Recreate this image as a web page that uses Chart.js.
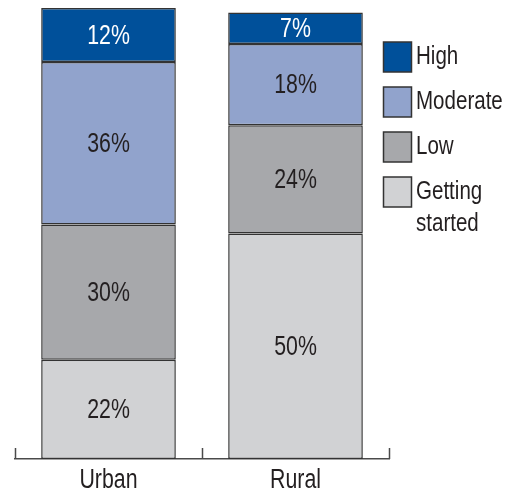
<!DOCTYPE html>
<html>
<head>
<meta charset="utf-8">
<script src="https://cdn.jsdelivr.net/npm/chart.js@4"></script>
<style>
  body { margin: 0; background: #fff; }
  canvas { display: block; }
</style>
</head>
<body>
<canvas id="chart" width="517" height="495"></canvas>
<script>
const categories = ["Urban", "Rural"];
const gettingStarted = [22, 50];
const low = [30, 24];
const moderate = [36, 18];
const high = [12, 7];

const legendLabels = [["High"], ["Moderate"], ["Low"], ["Getting", "started"]];

/* ===== Narrow text helper (Arial-like font squeezed horizontally) ===== */

function narrowText(ctx, text, x, y, size, color, align) {
  ctx.save();
  ctx.fillStyle = color;
  ctx.textAlign = align;
  ctx.textBaseline = "middle";
  ctx.font = size + "px 'Liberation Sans', Arial, sans-serif";
  ctx.translate(x, y);
  ctx.scale(0.79, 1);
  ctx.fillText(text, 0, 0);
  ctx.restore();
}

/* ===== Plugins ===== */

const extras = {
  id: "extras",
  afterDatasetsDraw(chart) {
    const ctx = chart.ctx;
    // segment values
    chart.data.datasets.forEach((ds, di) => {
      const meta = chart.getDatasetMeta(di);
      meta.data.forEach((bar, i) => {
        const mid = (bar.y + bar.base) / 2 + 1;
        narrowText(ctx, ds.data[i] + "%", bar.x, mid, 27, ds.labelColor, "center");
      });
    });

    // axis ticks pointing up, at category boundaries
    const x = chart.scales.x;
    const bottom = chart.chartArea.bottom;
    const step = (x.right - x.left) / categories.length;
    ctx.save();
    ctx.strokeStyle = "#4a4a4a";
    ctx.lineWidth = 1.5;
    for (let k = 0; k <= categories.length; k++) {
      const px = Math.round(x.left + step * k) + 0.5;
      ctx.beginPath();
      ctx.moveTo(px, bottom);
      ctx.lineTo(px, bottom - 11);
      ctx.stroke();
    }
    ctx.restore();

    // category labels
    categories.forEach((c, i) => {
      narrowText(ctx, c, x.getPixelForValue(i), bottom + 22, 27, "#231f20", "center");
    });

    // legend, top-down order High..Getting started
    const order = [3, 2, 1, 0];
    let y = 42;
    order.forEach((di, n) => {
      const ds = chart.data.datasets[di];
      ctx.save();
      ctx.fillStyle = ds.backgroundColor;
      ctx.strokeStyle = "#333";
      ctx.lineWidth = 1.5;
      ctx.fillRect(383.5, y, 28, 30);
      ctx.strokeRect(383.5, y, 28, 30);
      ctx.restore();
      legendLabels[n].forEach((line, li) => {
        narrowText(ctx, line, 416, y + 15 + li * 32, 26, "#231f20", "left");
      });
      y += 45;
    });
  }
};

/* ===== Chart ===== */

function makeSet(label, data, color, labelColor) {
  return {
    label: label,
    data: data,
    backgroundColor: color,
    borderColor: "#333",
    borderWidth: 1.5,
    borderSkipped: false,
    labelColor: labelColor,
    barPercentage: 0.72,
    categoryPercentage: 1
  };
}

new Chart(document.getElementById("chart"), {
  type: "bar",
  data: {
    labels: categories,
    datasets: [
      makeSet("Getting started", gettingStarted, "#d1d2d4", "#231f20"),
      makeSet("Low", low, "#a7a8ab", "#231f20"),
      makeSet("Moderate", moderate, "#91a3cc", "#231f20"),
      makeSet("High", high, "#00509a", "#ffffff")
    ]
  },
  options: {
    responsive: false,
    animation: false,
    layout: { padding: { left: 15, top: 8, right: 128, bottom: 36 } },
    plugins: { legend: { display: false }, tooltip: { enabled: false } },
    scales: {
      x: {
        stacked: true,
        grid: { display: true, drawOnChartArea: false, drawTicks: false },
        border: { display: true, color: "#4a4a4a", width: 1.5 },
        ticks: { display: false }
      },
      y: {
        stacked: true,
        display: false,
        min: 0,
        max: 100
      }
    }
  },
  plugins: [extras]
});
</script>
</body>
</html>
